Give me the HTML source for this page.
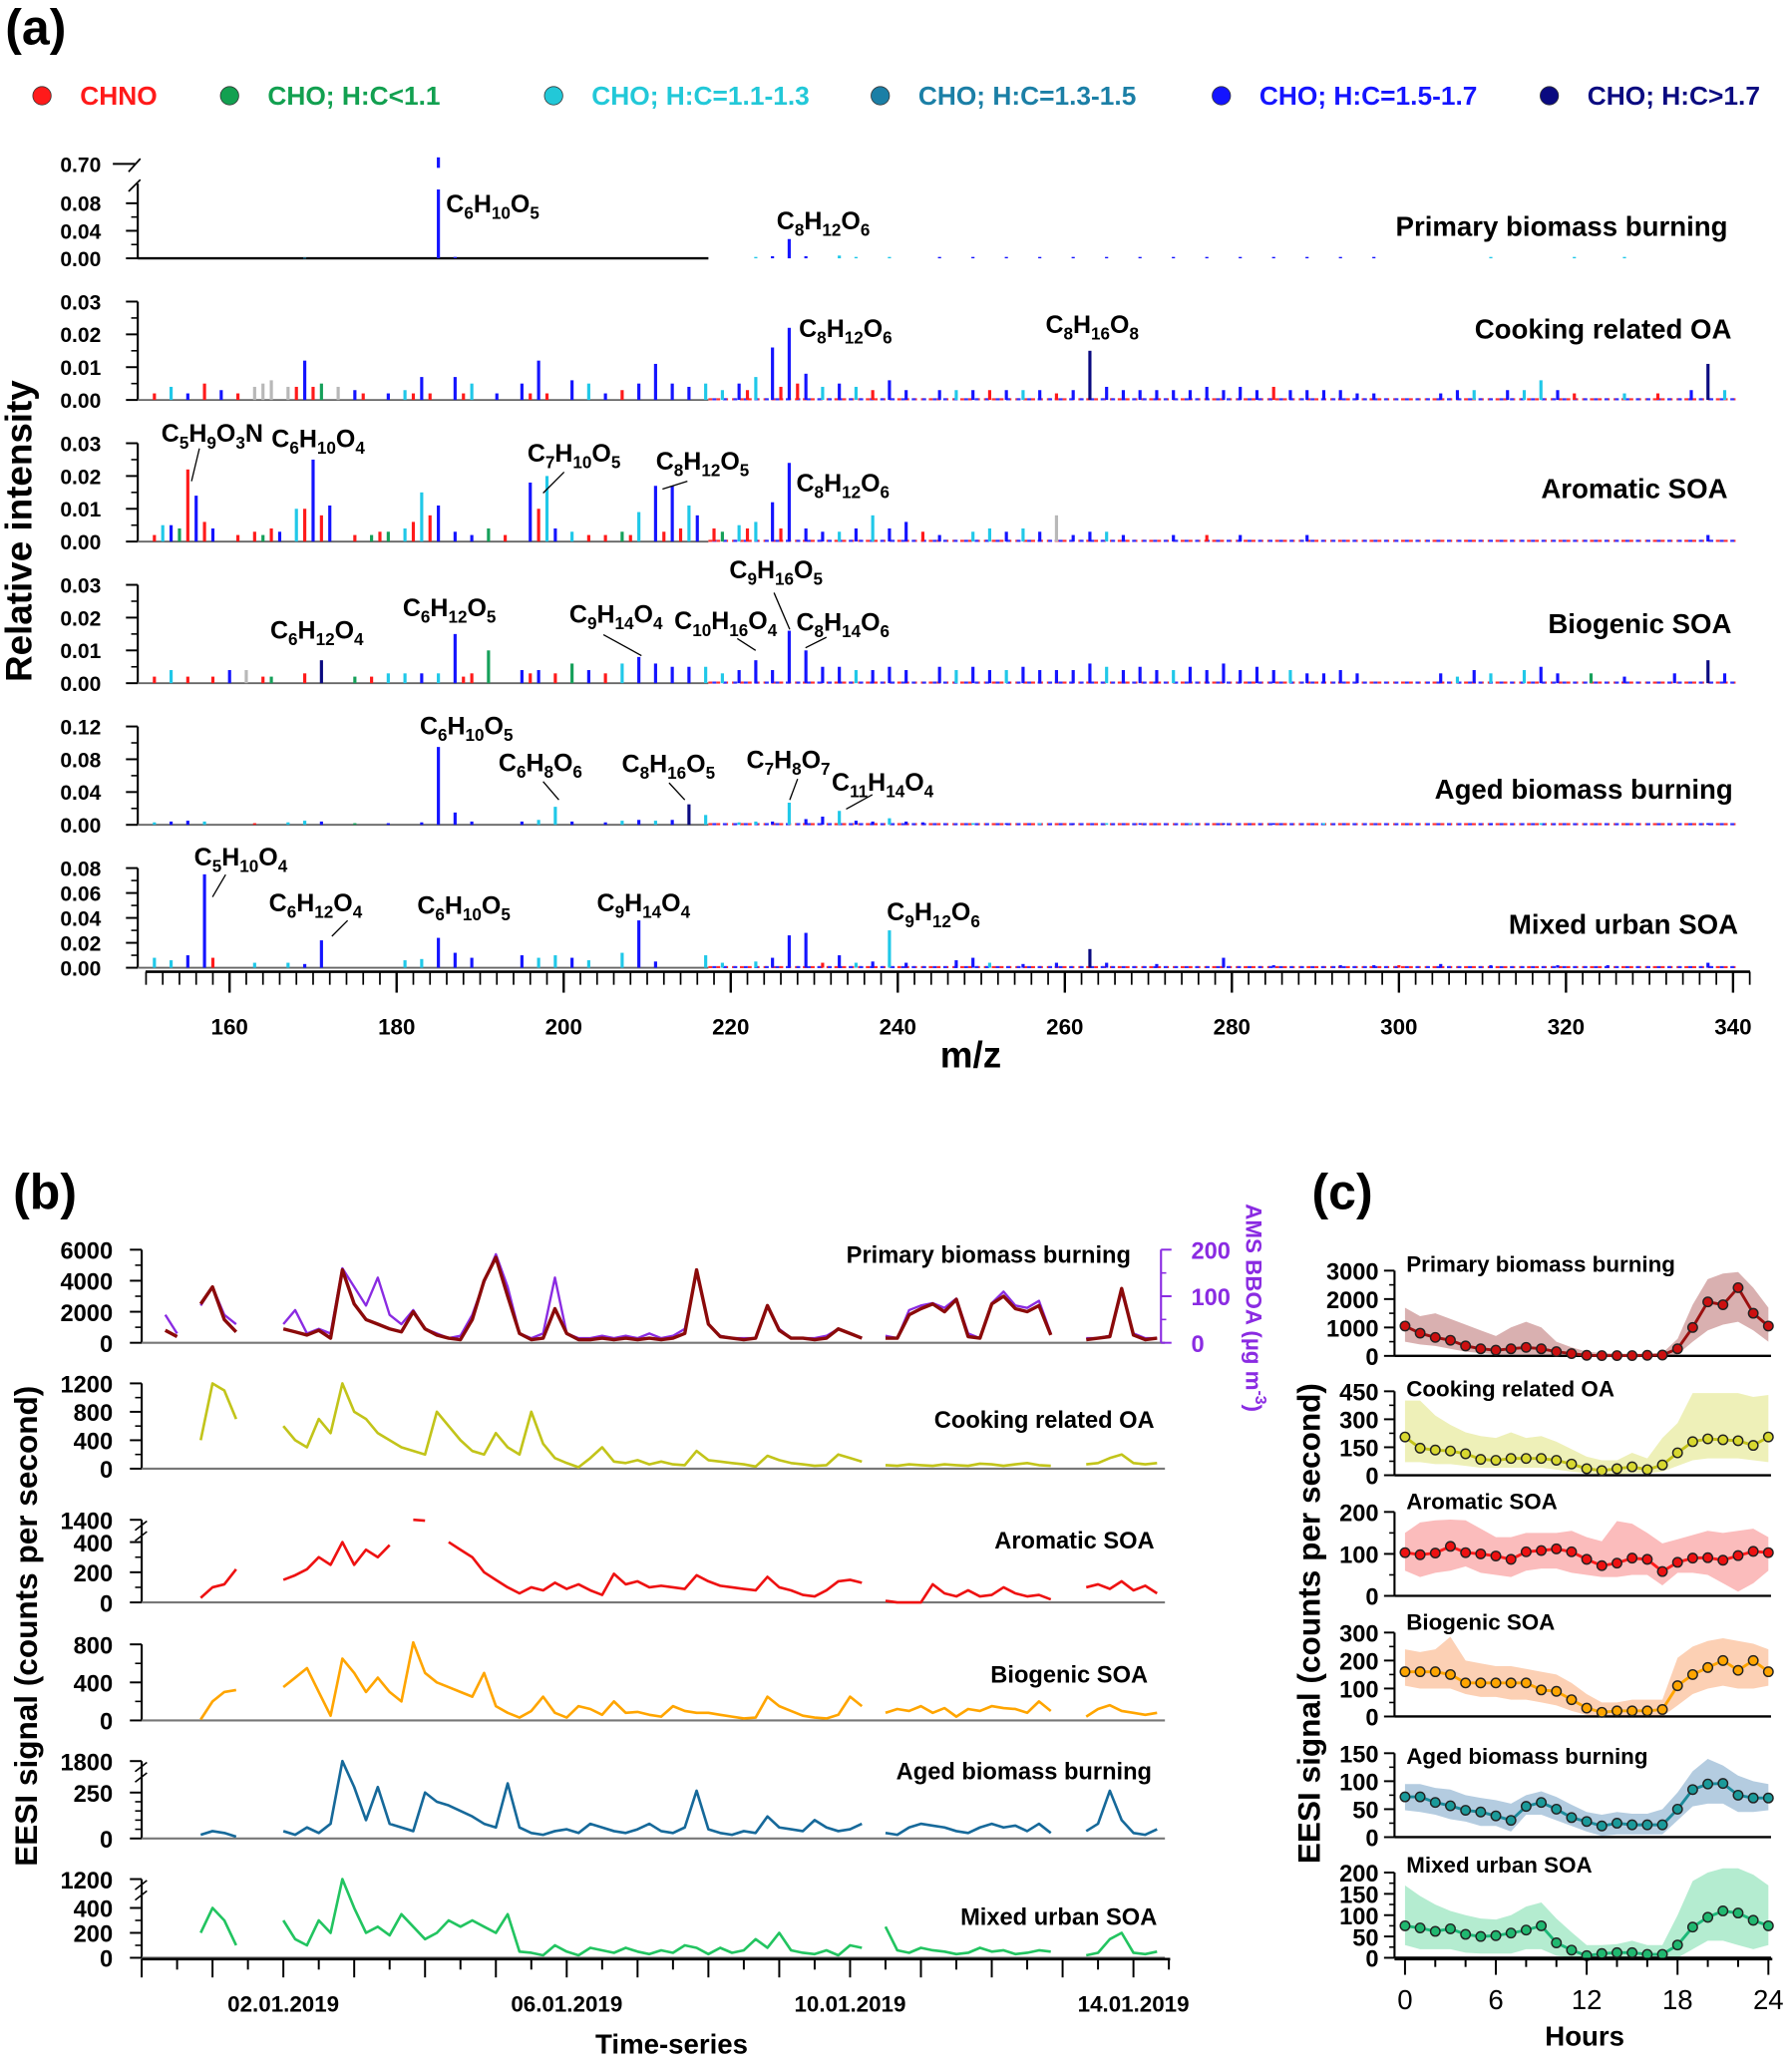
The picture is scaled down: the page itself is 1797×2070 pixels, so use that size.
<!DOCTYPE html>
<html><head><meta charset="utf-8"><style>
html,body{margin:0;padding:0;background:#fff;}
svg{display:block;font-family:"Liberation Sans",sans-serif;}
</style></head><body>
<svg id="fig" xmlns="http://www.w3.org/2000/svg" viewBox="0 0 1366 1574" width="1797" height="2070" preserveAspectRatio="none">
<rect x="0" y="0" width="1366" height="1574" fill="#fff"/>
<text x="4" y="34" font-size="38" font-weight="bold">(a)</text>
<text x="10" y="922" font-size="38" font-weight="bold">(b)</text>
<text x="1000" y="922" font-size="38" font-weight="bold">(c)</text>
<text transform="translate(24,405) rotate(-90)" text-anchor="middle" font-size="28" font-weight="bold">Relative intensity</text>
<text x="740" y="814" text-anchor="middle" font-size="28" font-weight="bold">m/z</text>
<text transform="translate(28,1240) rotate(-90)" text-anchor="middle" font-size="24" font-weight="bold">EESI signal (counts per second)</text>
<text transform="translate(1006,1238) rotate(-90)" text-anchor="middle" font-size="24" font-weight="bold">EESI signal (counts per second)</text>
<text x="512" y="1566" text-anchor="middle" font-size="21" font-weight="bold">Time-series</text>
<text x="1208" y="1560" text-anchor="middle" font-size="21" font-weight="bold">Hours</text>
<text transform="translate(950,918) rotate(90)" font-size="17" font-weight="bold" fill="#8a2be2">AMS BBOA (µg m<tspan dy="-7" font-size="12">-3</tspan><tspan dy="7">)</tspan></text>
<g id="legend"></g>
<g id="pa"></g>
<g id="pb"></g>
<g id="pc"></g>
</svg>
<script>
// ===== Panel (a) data =====
const legendLabels=["CHNO","CHO; H:C<1.1","CHO; H:C=1.1-1.3","CHO; H:C=1.3-1.5","CHO; H:C=1.5-1.7","CHO; H:C>1.7"];
const legendKeys=["r","g","c","t","b","n"];
const pbbBars=[[169,.001,'t'],[185,0.7,'b'],[187,.002,'b'],[223,.002,'c'],[225,.003,'b'],[227,.028,'b'],[229,.003,'b'],[233,.004,'c'],[235,.002,'c'],[239,.002,'c'],[245,.002,'b'],[249,.002,'b'],[253,.002,'b'],[257,.002,'b'],[261,.002,'b'],[265,.002,'b'],[269,.002,'b'],[273,.002,'b'],[277,.002,'b'],[281,.002,'b'],[285,.002,'b'],[289,.002,'b'],[293,.002,'b'],[297,.002,'b'],[311,.002,'c'],[321,.002,'c'],[327,.002,'c']];
const cookBars=[[151,.002,'r'],[153,.004,'c'],[155,.002,'b'],[157,.005,'r'],[159,.003,'b'],[161,.002,'r'],[163,.004,'k'],[164,.005,'k'],[165,.006,'k'],[167,.004,'k'],[168,.004,'r'],[169,.012,'b'],[170,.004,'r'],[171,.005,'g'],[173,.004,'k'],[175,.003,'b'],[176,.002,'r'],[179,.002,'b'],[181,.003,'c'],[182,.002,'r'],[183,.007,'b'],[184,.002,'r'],[187,.007,'b'],[188,.002,'r'],[189,.005,'c'],[192,.002,'b'],[195,.005,'b'],[196,.002,'r'],[197,.012,'b'],[198,.002,'r'],[201,.006,'b'],[203,.005,'c'],[205,.002,'b'],[207,.003,'r'],[209,.005,'b'],[211,.011,'b'],[213,.005,'b'],[215,.004,'b'],[217,.005,'c'],[219,.003,'c'],[221,.005,'b'],[222,.003,'r'],[223,.007,'c'],[225,.016,'b'],[226,.004,'r'],[227,.022,'b'],[228,.005,'r'],[229,.008,'b'],[231,.004,'c'],[233,.005,'b'],[235,.004,'c'],[237,.003,'r'],[239,.006,'b'],[241,.003,'b'],[245,.003,'b'],[247,.003,'c'],[249,.003,'b'],[251,.003,'r'],[253,.003,'b'],[255,.003,'c'],[257,.003,'b'],[259,.002,'r'],[261,.003,'b'],[263,.015,'n'],[265,.004,'b'],[267,.003,'b'],[269,.003,'b'],[271,.003,'b'],[273,.003,'b'],[275,.003,'b'],[277,.004,'b'],[279,.003,'b'],[281,.004,'b'],[283,.003,'b'],[285,.004,'r'],[287,.003,'b'],[289,.003,'b'],[291,.003,'b'],[293,.003,'b'],[295,.002,'b'],[297,.002,'b'],[305,.002,'b'],[307,.003,'b'],[309,.003,'c'],[313,.003,'b'],[315,.003,'c'],[317,.006,'c'],[319,.003,'b'],[321,.002,'r'],[327,.002,'c'],[331,.002,'r'],[335,.003,'b'],[337,.011,'n'],[339,.003,'c']];
const aroBars=[[151,.002,'r'],[152,.005,'c'],[153,.005,'b'],[154,.004,'g'],[155,.022,'r'],[156,.014,'b'],[157,.006,'r'],[158,.004,'b'],[161,.002,'r'],[163,.003,'r'],[164,.002,'g'],[165,.004,'r'],[166,.003,'b'],[168,.010,'c'],[169,.010,'r'],[170,.025,'b'],[171,.008,'r'],[172,.011,'b'],[175,.002,'r'],[177,.002,'g'],[178,.003,'r'],[179,.003,'g'],[181,.004,'c'],[182,.006,'r'],[183,.015,'c'],[184,.008,'r'],[185,.011,'b'],[187,.003,'b'],[189,.002,'b'],[191,.004,'g'],[193,.002,'r'],[196,.018,'b'],[197,.010,'r'],[198,.020,'c'],[199,.004,'b'],[201,.003,'c'],[203,.002,'r'],[205,.002,'r'],[207,.003,'g'],[208,.002,'r'],[209,.009,'c'],[211,.017,'b'],[212,.003,'r'],[213,.017,'b'],[214,.004,'r'],[215,.011,'c'],[216,.008,'b'],[218,.004,'r'],[219,.003,'g'],[221,.005,'c'],[222,.004,'r'],[223,.006,'c'],[225,.012,'b'],[226,.004,'r'],[227,.024,'b'],[229,.004,'b'],[231,.003,'b'],[233,.003,'c'],[235,.004,'b'],[237,.008,'c'],[239,.004,'b'],[241,.006,'b'],[243,.003,'r'],[245,.002,'b'],[249,.003,'c'],[251,.004,'c'],[253,.003,'b'],[255,.004,'c'],[257,.003,'b'],[259,.008,'k'],[261,.002,'b'],[263,.003,'b'],[265,.003,'c'],[267,.002,'b'],[273,.002,'b'],[277,.002,'r'],[281,.002,'b'],[289,.002,'b'],[337,.002,'b']];
const bioBars=[[151,.002,'r'],[153,.004,'c'],[155,.002,'r'],[158,.002,'r'],[160,.004,'b'],[162,.004,'k'],[164,.002,'r'],[165,.002,'g'],[169,.003,'r'],[171,.007,'n'],[175,.002,'g'],[177,.002,'r'],[179,.003,'c'],[181,.003,'c'],[183,.003,'b'],[185,.003,'c'],[187,.015,'b'],[188,.002,'r'],[189,.003,'r'],[191,.010,'g'],[195,.004,'b'],[196,.003,'r'],[197,.004,'b'],[199,.003,'r'],[201,.006,'g'],[203,.004,'b'],[205,.003,'r'],[207,.006,'c'],[209,.008,'b'],[211,.006,'b'],[213,.005,'b'],[215,.005,'b'],[217,.005,'c'],[219,.003,'c'],[221,.004,'b'],[223,.007,'b'],[225,.004,'b'],[227,.016,'b'],[229,.010,'b'],[231,.005,'b'],[233,.005,'b'],[235,.004,'c'],[237,.004,'b'],[239,.005,'b'],[241,.004,'b'],[245,.005,'b'],[247,.004,'c'],[249,.005,'b'],[251,.004,'b'],[253,.004,'c'],[255,.005,'b'],[257,.004,'b'],[259,.004,'b'],[261,.004,'b'],[263,.006,'b'],[265,.005,'c'],[267,.004,'b'],[269,.005,'b'],[271,.004,'b'],[273,.004,'c'],[275,.005,'b'],[277,.004,'b'],[279,.006,'b'],[281,.004,'b'],[283,.005,'b'],[285,.004,'b'],[287,.004,'c'],[289,.003,'b'],[291,.003,'b'],[293,.004,'b'],[295,.003,'b'],[305,.003,'b'],[307,.002,'c'],[309,.004,'b'],[311,.003,'c'],[315,.004,'c'],[317,.005,'b'],[319,.003,'b'],[323,.003,'g'],[327,.002,'b'],[333,.003,'b'],[337,.007,'n'],[339,.003,'b']];
const agedBars=[[151,.003,'c'],[153,.004,'b'],[155,.005,'b'],[157,.004,'c'],[163,.002,'r'],[167,.003,'c'],[169,.005,'c'],[171,.004,'b'],[175,.002,'g'],[179,.002,'b'],[183,.003,'b'],[185,.095,'b'],[187,.015,'b'],[189,.004,'b'],[195,.004,'b'],[197,.006,'c'],[199,.022,'c'],[201,.004,'b'],[205,.003,'b'],[207,.005,'c'],[209,.006,'b'],[211,.005,'c'],[213,.006,'b'],[215,.025,'n'],[217,.012,'c'],[221,.003,'c'],[223,.004,'c'],[225,.004,'b'],[227,.027,'c'],[229,.007,'b'],[231,.010,'b'],[233,.017,'c'],[235,.005,'b'],[237,.004,'b'],[239,.008,'c'],[241,.004,'b'],[243,.003,'b'],[249,.002,'c'],[253,.002,'b'],[257,.002,'c'],[261,.002,'b'],[265,.002,'c'],[269,.002,'b'],[275,.002,'c'],[279,.002,'b'],[285,.002,'b'],[291,.002,'c'],[311,.002,'b'],[317,.002,'c'],[337,.002,'b']];
const mixBars=[[151,.008,'c'],[153,.006,'c'],[155,.010,'b'],[157,.075,'b'],[158,.008,'r'],[163,.004,'c'],[167,.004,'c'],[169,.003,'b'],[171,.022,'b'],[181,.006,'c'],[183,.007,'c'],[185,.024,'b'],[187,.012,'b'],[189,.008,'b'],[195,.010,'b'],[197,.008,'c'],[199,.010,'c'],[201,.008,'b'],[203,.006,'c'],[207,.012,'c'],[209,.038,'b'],[211,.005,'b'],[217,.010,'c'],[219,.004,'c'],[223,.005,'c'],[225,.008,'b'],[227,.026,'b'],[229,.028,'b'],[231,.004,'r'],[233,.010,'b'],[235,.004,'c'],[237,.005,'b'],[239,.030,'c'],[241,.004,'b'],[247,.006,'b'],[249,.008,'b'],[251,.004,'c'],[255,.003,'b'],[259,.004,'b'],[263,.015,'n'],[265,.004,'b'],[271,.003,'b'],[279,.008,'b'],[285,.002,'b'],[293,.002,'b'],[297,.002,'b'],[300,.002,'r'],[305,.003,'b'],[311,.002,'b'],[319,.002,'b'],[325,.002,'b'],[337,.004,'b']];
const mzTickLabels=[160,180,200,220,240,260,280,300,320,340];

// ===== Panel (b) data (4-hourly, k=0..87, t = k/6 days from 31.12.2018) =====
const tsDayLabels=["02.01.2019","06.01.2019","10.01.2019","14.01.2019"];
const tsDayPos=[2,6,10,14];
const sPBB=[null,null,800,400,null,2500,3600,1500, 700,null,null,null,900,700,500,800, 300,4700,2500,1500,1200,900,700,2000, 900,500,300,200,1500,4000,5500,3000, 600,200,300,2200,600,200,200,300, 200,300,200,300,200,300,600,4700, 1200,400,300,200,300,2400,800,300, 300,200,300,900,600,300,null,300, 300,1800,2200,2500,2000,2800,400,300, 2500,3000,2200,2000,2400,500,null,null, 200,300,400,3500,500,200,300,null];
const sBBOA=[null,null,60,20,null,80,120,60, 40,null,null,null,40,70,20,30, 20,160,120,80,140,60,40,70, 30,20,10,15,60,130,190,120, 20,10,20,140,20,10,10,15, 10,15,10,20,10,15,30,150, 40,15,10,10,10,80,30,10, 10,10,15,30,20,10,null,15, 10,70,80,85,75,95,20,10, 85,110,80,75,90,20,null,null, 10,10,15,110,20,10,10,null];
const sCOOK=[null,null,600,null,null,400,1200,1100, 700,null,null,null,600,400,300,700, 500,1200,800,700,500,400,300,250, 200,800,600,400,250,200,500,300, 200,800,350,150,80,20,150,300, 100,80,120,60,100,60,50,250, 120,100,80,60,30,180,120,80, 60,40,50,200,150,100,null,50, 40,60,50,40,60,50,40,70, 60,40,60,80,50,40,null,null, 60,80,150,200,80,60,80,null];
const sARO=[null,null,120,null,null,30,100,120, 220,null,null,null,150,180,220,300, 250,400,250,350,300,380,null,1400, 1380,null,400,350,300,200,150,100, 60,100,80,130,90,120,80,50, 190,120,140,100,110,100,90,180, 140,110,100,90,80,170,100,80, 50,40,80,140,150,130,null,10, 0,0,0,120,60,40,80,40, 50,100,60,40,50,20,null,null, 100,120,90,140,80,110,60,null];
const sBIO=[null,null,80,null,null,10,200,300, 320,null,null,null,350,450,550,300, 50,650,500,300,450,300,200,820, 500,400,350,300,250,500,150,80, 30,100,250,80,30,150,120,60, 200,80,90,60,40,150,100,80, 80,60,40,20,30,250,150,100, 50,30,20,60,250,150,null,80, 120,100,150,80,130,40,120,100, 150,130,120,80,200,100,null,null, 40,120,160,100,80,60,80,null];
const sAGED=[null,null,80,null,null,20,40,30, 10,null,null,null,40,20,60,30, 80,1800,280,100,280,80,60,40, 250,200,180,150,120,80,60,300, 60,30,20,40,50,30,80,60, 40,30,50,80,40,30,60,260, 50,30,20,40,30,120,60,50, 40,100,60,40,50,80,null,30, 20,60,80,70,60,40,30,60, 80,60,70,40,80,30,null,null, 40,80,260,100,30,20,50,null];
const sMIX=[null,null,20,null,null,200,400,300, 100,null,null,null,300,150,100,300, 200,1200,400,200,250,180,350,250, 150,200,300,250,300,250,200,350, 50,40,20,100,50,20,80,60, 40,80,50,30,60,40,100,80, 30,80,40,60,150,80,200,60, 40,30,60,20,100,80,null,250, 60,40,80,60,50,30,40,80, 50,60,30,40,60,50,null,null, 20,40,150,200,40,30,50,null];

// ===== Panel (c) data (hour 0..24) =====
const hourLabels=[0,6,12,18,24];
const dPBB=[1050,800,650,550,350,250,200,250,300,250,150,80,20,10,10,10,20,30,250,1000,1900,1800,2400,1500,1050];
const dPBBhi=[1700,1400,1500,1300,1100,900,700,1000,1200,1000,500,300,150,100,80,80,80,100,600,1800,2700,2900,2950,2400,1700];
const dPBBlo=[500,400,350,250,150,100,50,50,50,30,0,0,0,0,0,0,0,0,50,500,900,1100,1200,900,500];
const dCOOK=[205,145,135,130,115,85,80,90,90,90,80,60,35,25,35,45,30,55,120,180,195,190,185,160,205];
const dCOOKhi=[400,400,320,270,230,210,200,230,200,210,180,140,100,80,80,120,90,200,280,440,440,440,440,420,430];
const dCOOKlo=[70,70,60,60,50,40,40,40,40,40,30,20,10,5,5,10,10,20,50,80,90,90,90,80,70];
const dARO=[103,98,102,118,103,100,95,87,105,108,112,105,87,72,78,90,87,58,80,90,91,85,96,106,103];
const dAROhi=[150,175,180,182,180,160,140,140,150,150,150,155,140,130,178,172,150,125,135,145,155,150,155,160,140];
const dAROlo=[60,45,55,60,70,55,50,45,60,65,65,55,50,45,45,50,50,25,55,55,50,30,10,30,60];
const dBIO=[160,160,160,150,120,120,120,120,120,95,90,60,30,15,20,20,20,25,110,150,175,200,165,200,160];
const dBIOhi=[240,230,240,285,200,190,180,180,170,160,150,120,80,50,50,60,60,60,210,250,270,280,270,260,240];
const dBIOlo=[110,100,100,100,80,70,70,60,60,50,40,20,5,0,0,0,0,0,40,80,100,110,100,100,110];
const dAGED=[72,72,62,56,48,45,38,30,55,62,50,35,28,20,25,22,22,22,50,85,95,96,75,70,70];
const dAGEDhi=[95,95,88,85,75,70,66,60,75,82,72,58,45,40,45,42,42,50,80,118,140,128,110,100,95];
const dAGEDlo=[48,45,40,32,28,20,20,10,40,40,30,20,10,2,5,5,5,5,30,55,60,60,45,45,48];
const dMIX=[75,70,62,68,55,50,52,58,65,75,35,18,5,10,12,12,8,8,30,72,95,110,105,88,75];
const dMIXhi=[170,145,125,110,100,92,90,100,120,130,92,60,30,30,32,40,30,30,100,180,200,210,210,195,170];
const dMIXlo=[30,20,20,20,12,10,10,10,20,20,5,0,0,0,0,0,0,0,0,20,40,40,30,20,30];

// ===== helpers =====
const NS="http://www.w3.org/2000/svg";
const COL={r:"#ff1a1a",g:"#16a05a",c:"#20c8e8",t:"#1b7fa6",b:"#1414ff",n:"#0a0a80",k:"#b8b8b8"};
const LEGCOL={r:"#ff1a1a",g:"#12a050",c:"#22c8d8",t:"#1b7fa6",b:"#1414ff",n:"#0a0a80"};
function mk(tag,attrs,parent){const e=document.createElementNS(NS,tag);for(const k in attrs)e.setAttribute(k,attrs[k]);parent.appendChild(e);return e;}
function txt(parent,x,y,s,size,anchor,weight,fill){const t=mk('text',{x:x,y:y,'font-size':size,'text-anchor':anchor||'start','font-weight':weight||'bold',fill:fill||'#000'},parent);t.textContent=s;return t;}
function formula(parent,s,x,y){
  const t=mk('text',{x:x,y:y,'font-size':19,'font-weight':'bold'},parent);
  const re=/([A-Z][a-z]?)(\d*)/g;let m;
  while((m=re.exec(s))!==null){
    const a=mk('tspan',{},t);a.textContent=m[1];
    if(m[2]){const b=mk('tspan',{dy:5,'font-size':13},t);b.textContent=m[2];const c=mk('tspan',{dy:-5,'font-size':1},t);c.textContent='\u200b';}
  }
  return t;
}
const pa=document.getElementById('pa'),pb=document.getElementById('pb'),pc=document.getElementById('pc'),lg=document.getElementById('legend');

// ===== legend =====
const legX=[32,175,422,671,931,1181];
legendLabels.forEach((s,i)=>{
  const g=mk('g',{},lg);
  
  
  mk('circle',{cx:legX[i],cy:73,r:7,fill:LEGCOL[legendKeys[i]],stroke:'#333','stroke-width':0.6},g);
  txt(g,legX[i]+29,80,s,20,'start','bold',LEGCOL[legendKeys[i]]);
});

// ===== panel (a) =====
function xm(m){return 175+(m-160)*6.367;}
const aPanels=[
 {name:'primary-biomass-burning',title:'Primary biomass burning',tx:1317,ty:180,base:197,ppu:525,ticks:[0,0.04,0.08],tl:['0.00','0.04','0.08'],bars:pbbBars,top:140,brk:true},
 {name:'cooking-related-oa',title:'Cooking related OA',tx:1320,ty:258,base:305,ppu:2500,ticks:[0,0.01,0.02,0.03],tl:['0.00','0.01','0.02','0.03'],bars:cookBars},
 {name:'aromatic-soa',title:'Aromatic SOA',tx:1317,ty:380,base:413,ppu:2500,ticks:[0,0.01,0.02,0.03],tl:['0.00','0.01','0.02','0.03'],bars:aroBars},
 {name:'biogenic-soa',title:'Biogenic SOA',tx:1320,ty:483,base:521,ppu:2500,ticks:[0,0.01,0.02,0.03],tl:['0.00','0.01','0.02','0.03'],bars:bioBars},
 {name:'aged-biomass-burning',title:'Aged biomass burning',tx:1321,ty:609,base:629,ppu:625,ticks:[0,0.04,0.08,0.12],tl:['0.00','0.04','0.08','0.12'],bars:agedBars},
 {name:'mixed-urban-soa',title:'Mixed urban SOA',tx:1325,ty:712,base:738,ppu:950,ticks:[0,0.02,0.04,0.06,0.08],tl:['0.00','0.02','0.04','0.06','0.08'],bars:mixBars}
];
aPanels.forEach((p,pi)=>{
  const g=mk('g',{},pa);
  
  
  const yv=v=>p.base-v*p.ppu;
  const topY=p.brk?p.top:yv(p.ticks[p.ticks.length-1]);
  mk('line',{x1:105,y1:p.base,x2:105,y2:topY,stroke:'#000','stroke-width':1.6},g);
  p.ticks.forEach((v,i)=>{
    mk('line',{x1:96,y1:yv(v),x2:105,y2:yv(v),stroke:'#000','stroke-width':1.5},g);
    txt(g,77,yv(v)+6,p.tl[i],16,'end','bold');
    if(i<p.ticks.length-1){const mv=(v+p.ticks[i+1])/2;mk('line',{x1:100,y1:yv(mv),x2:105,y2:yv(mv),stroke:'#000','stroke-width':1.2},g);}
  });
  if(p.brk){
    mk('line',{x1:86,y1:125,x2:103,y2:125,stroke:'#000','stroke-width':1.5},g);
    mk('path',{d:'M98,131 L107,121 M98,146 L107,137',stroke:'#000','stroke-width':1.3,fill:'none'},g);
    txt(g,77,131,'0.70',16,'end','bold');
  }
  // baseline left part
  mk('line',{x1:105,y1:p.base,x2:540,y2:p.base,stroke:pi==0?'#000':'#666','stroke-width':pi==0?1.8:1.4},g);
  if(pi>0){
    mk('line',{x1:540,y1:p.base-0.5,x2:1325,y2:p.base-0.5,stroke:'#ff3030','stroke-width':1.6,'stroke-dasharray':'3 3'},g);
    mk('line',{x1:543,y1:p.base-0.5,x2:1325,y2:p.base-0.5,stroke:'#3030ff','stroke-width':1.6,'stroke-dasharray':'3 5'},g);
  }
  p.bars.forEach(b=>{
    let v=b[1],y=yv(v);
    if(p.brk && v>0.1){
      y=yv(0.1);
      const s=mk('line',{x1:xm(b[0]),y1:128,x2:xm(b[0]),y2:120,stroke:COL[b[2]],'stroke-width':2.4},g);
      
      
    }
    const r=mk('rect',{x:xm(b[0])-1.2,y:y,width:2.4,height:Math.max(p.base-y,0.8),fill:COL[b[2]]},g);
    
    
  });
  const tt=txt(g,p.tx,p.ty,p.title,21,'end','bold');
  
  
});
// m/z axis
(function(){
  const g=mk('g',{},pa);
  
  
  mk('line',{x1:111,y1:741,x2:1334,y2:741,stroke:'#000','stroke-width':2},g);
  for(let m=150;m<=342;m+=2){const maj=(m%20===0);mk('line',{x1:xm(m),y1:741,x2:xm(m),y2:maj?757:751,stroke:'#000','stroke-width':maj?1.8:1.3},g);}
  mzTickLabels.forEach(m=>{const t=txt(g,xm(m),789,String(m),17,'middle','bold');});
})();
// formula labels
const formulaLabels=[
 ['C6H10O5',340,162,null],['C8H12O6',592,175,null],
 ['C8H12O6',609,257,null],['C8H16O8',797,254,null],
 ['C5H9O3N',123,337,[152,342,146,367]],['C6H10O4',207,341,null],['C7H10O5',402,352,[430,360,414,376]],['C8H12O5',500,358,[524,367,505,373]],['C8H12O6',607,375,null],
 ['C6H12O4',206,487,null],['C6H12O5',307,470,null],['C9H14O4',434,475,[460,484,489,500]],['C10H16O4',514,480,[562,487,576,496]],['C9H16O5',556,441,[590,452,602,480]],['C8H14O6',607,481,[630,486,614,494]],
 ['C6H10O5',320,560,null],['C6H8O6',380,588,[414,596,426,610]],['C8H16O5',474,589,[510,597,522,610]],['C7H8O7',569,586,[608,594,602,610]],['C11H14O4',634,603,[665,606,645,617]],
 ['C5H10O4',148,660,[172,667,162,684]],['C6H12O4',205,695,[265,702,253,714]],['C6H10O5',318,697,null],['C9H14O4',455,695,null],['C9H12O6',676,702,null]
];
formulaLabels.forEach(f=>{
  const t=formula(pa,f[0],f[1],f[2]);
  
  
  if(f[3]){mk('line',{x1:f[3][0],y1:f[3][1],x2:f[3][2],y2:f[3][3],stroke:'#000','stroke-width':1},pa);}
});

// ===== panel (b) =====
function xt(k){return 108+9*k;}
function xd(d){return 108+54*d;}
const bPanels=[
 {name:'primary-biomass-burning',title:'Primary biomass burning',tx:862,ty:963,base:1024,data:sPBB,col:'#8b0a0a',y:v=>1024-v*0.01183,ticks:[0,2000,4000,6000],minor:[1000,3000,5000],sw:2.6},
 {name:'cooking-related-oa',title:'Cooking related OA',tx:880,ty:1089,base:1120,data:sCOOK,col:'#c2c41a',y:v=>1120-v*0.0542,ticks:[0,400,800,1200],minor:[200,600,1000]},
 {name:'aromatic-soa',title:'Aromatic SOA',tx:880,ty:1181,base:1222,data:sARO,col:'#ee1111',y:v=>v<=450?1222-v*0.115:1159-(v-1400)*0.03,ticks:[0,200,400],minor:[100,300],brk:[1400,1159]},
 {name:'biogenic-soa',title:'Biogenic SOA',tx:875,ty:1283,base:1312,data:sBIO,col:'#ffa500',y:v=>1312-v*0.0725,ticks:[0,400,800],minor:[200,600]},
 {name:'aged-biomass-burning',title:'Aged biomass burning',tx:878,ty:1357,base:1402,data:sAGED,col:'#16699a',y:v=>v<=300?1402-v*0.14:1343-(v-1800)*0.02,ticks:[0,250],minor:[50,100,150,200],brk:[1800,1343]},
 {name:'mixed-urban-soa',title:'Mixed urban SOA',tx:882,ty:1468,base:1493,data:sMIX,col:'#22c460',y:v=>v<=450?1493-v*0.095:1433-(v-1200)*0.02,ticks:[0,200,400],minor:[100,300],brk:[1200,1433]}
];
function drawSeries(g,arr,yf,col,sw,name){
  let seg=[];
  const flush=()=>{if(seg.length>1){const pl=mk('polyline',{points:seg.join(' '),fill:'none',stroke:col,'stroke-width':sw,'stroke-linejoin':'round'},g);}seg=[];};
  arr.forEach((v,k)=>{if(v===null){flush();}else{seg.push(xt(k).toFixed(1)+','+yf(v).toFixed(1));}});
  flush();
}
bPanels.forEach((p,pi)=>{
  const g=mk('g',{},pb);
  
  
  const top=p.brk?p.brk[1]:p.y(p.ticks[p.ticks.length-1]);
  mk('line',{x1:108,y1:p.base,x2:108,y2:top,stroke:'#000','stroke-width':1.6},g);
  mk('line',{x1:108,y1:p.base,x2:888,y2:p.base,stroke:'#777','stroke-width':1.6},g);
  p.ticks.forEach(v=>{mk('line',{x1:99,y1:p.y(v),x2:108,y2:p.y(v),stroke:'#000','stroke-width':1.5},g);txt(g,86,p.y(v)+7,String(v),18,'end','bold');});
  p.minor.forEach(v=>{mk('line',{x1:103,y1:p.y(v),x2:108,y2:p.y(v),stroke:'#000','stroke-width':1.2},g);});
  if(p.brk){
    mk('line',{x1:99,y1:p.brk[1],x2:108,y2:p.brk[1],stroke:'#000','stroke-width':1.5},g);
    txt(g,86,p.brk[1]+7,String(p.brk[0]),18,'end','bold');
    mk('path',{d:`M103,${p.brk[1]+8} L112,${p.brk[1]+1} M103,${p.brk[1]+16} L112,${p.brk[1]+9}`,stroke:'#000','stroke-width':1.2,fill:'none'},g);
  }
  if(pi===0){
    const by=v=>1024-v*0.355;
    drawSeries(g,sBBOA,by,'#8a2be2',1.8,'bboa-line');
    mk('line',{x1:885,y1:1024,x2:885,y2:953,stroke:'#8a2be2','stroke-width':1.6},g);
    [0,100,200].forEach(v=>{mk('line',{x1:885,y1:by(v),x2:893,y2:by(v),stroke:'#8a2be2','stroke-width':1.5},g);txt(g,908,by(v)+7,String(v),18,'start','bold','#8a2be2');});
    [50,150].forEach(v=>{mk('line',{x1:885,y1:by(v),x2:889,y2:by(v),stroke:'#8a2be2','stroke-width':1.2},g);});
  }
  drawSeries(g,p.data,p.y,p.col,p.sw||2,'series-line');
  const tt=txt(g,p.tx,p.ty,p.title,18,'end','bold');
  
  
});
(function(){
  const g=mk('g',{},pb);
  
  
  mk('line',{x1:108,y1:1494,x2:892,y2:1494,stroke:'#000','stroke-width':2},g);
  for(let d=0;d<=14.5;d+=0.5){const maj=Number.isInteger(d);mk('line',{x1:xd(d),y1:1494,x2:xd(d),y2:maj?1508:1502,stroke:'#000','stroke-width':1.5},g);}
  tsDayLabels.forEach((s,i)=>{const t=txt(g,xd(tsDayPos[i]),1534,s,17,'middle','bold');});
})();

// ===== panel (c) =====
function xh(h){return 1071+h*(277/24);}
const cPanels=[
 {name:'primary-biomass-burning',title:'Primary biomass burning',ty:970,base:1034,top:969,max:3000,ticks:[0,1000,2000,3000],m:dPBB,hi:dPBBhi,lo:dPBBlo,col:'#9b1010',band:'#d9b0b0',fill:'#cc1010'},
 {name:'cooking-related-oa',title:'Cooking related OA',ty:1065,base:1125,top:1061,max:450,ticks:[0,150,300,450],m:dCOOK,hi:dCOOKhi,lo:dCOOKlo,col:'#c4c41a',band:'#eef0b8',fill:'#d8d830'},
 {name:'aromatic-soa',title:'Aromatic SOA',ty:1151,base:1217,top:1153,max:200,ticks:[0,100,200],m:dARO,hi:dAROhi,lo:dAROlo,col:'#ff1a1a',band:'#fbbcbc',fill:'#ee1111'},
 {name:'biogenic-soa',title:'Biogenic SOA',ty:1243,base:1309,top:1245,max:300,ticks:[0,100,200,300],m:dBIO,hi:dBIOhi,lo:dBIOlo,col:'#ffa500',band:'#fcd0b4',fill:'#ffa500'},
 {name:'aged-biomass-burning',title:'Aged biomass burning',ty:1345,base:1401,top:1337,max:150,ticks:[0,50,100,150],m:dAGED,hi:dAGEDhi,lo:dAGEDlo,col:'#1b8a9a',band:'#b4cce0',fill:'#1b9a9a'},
 {name:'mixed-urban-soa',title:'Mixed urban SOA',ty:1428,base:1493,top:1428,max:200,ticks:[0,50,100,150,200],m:dMIX,hi:dMIXhi,lo:dMIXlo,col:'#1cb878',band:'#b4ecd0',fill:'#20b870'}
];
cPanels.forEach(p=>{
  const g=mk('g',{},pc);
  
  
  const y=v=>p.base-v*(p.base-p.top)/p.max;
  let d='M'+p.hi.map((v,h)=>xh(h).toFixed(1)+','+y(v).toFixed(1)).join(' L');
  for(let h=24;h>=0;h--)d+=' L'+xh(h).toFixed(1)+','+y(p.lo[h]).toFixed(1);
  const band=mk('path',{d:d+' Z',fill:p.band,stroke:'none'},g);
  
  
  mk('line',{x1:1063,y1:p.base,x2:1063,y2:p.top,stroke:'#000','stroke-width':1.6},g);
  mk('line',{x1:1063,y1:p.base,x2:1350,y2:p.base,stroke:'#000','stroke-width':1.8},g);
  p.ticks.forEach((v,i)=>{
    mk('line',{x1:1055,y1:y(v),x2:1063,y2:y(v),stroke:'#000','stroke-width':1.5},g);
    txt(g,1051,y(v)+7,String(v),18,'end','bold');
    if(i<p.ticks.length-1){const mv=(v+p.ticks[i+1])/2;mk('line',{x1:1059,y1:y(mv),x2:1063,y2:y(mv),stroke:'#000','stroke-width':1.2},g);}
  });
  const line=mk('polyline',{points:p.m.map((v,h)=>xh(h).toFixed(1)+','+y(v).toFixed(1)).join(' '),fill:'none',stroke:p.col,'stroke-width':2.2},g);
  
  
  p.m.forEach((v,h)=>{
    const c=mk('circle',{cx:xh(h),cy:y(v),r:3.6,fill:p.fill,stroke:'#222','stroke-width':1.1},g);
    
    
  });
  const tt=txt(g,1072,p.ty,p.title,17,'start','bold');
  
  
});
(function(){
  const g=mk('g',{},pc);
  
  
  mk('line',{x1:1063,y1:1494,x2:1351,y2:1494,stroke:'#000','stroke-width':2},g);
  for(let h=0;h<=24;h+=2){const maj=h%6===0;mk('line',{x1:xh(h),y1:1494,x2:xh(h),y2:maj?1506:1500,stroke:'#000','stroke-width':1.5},g);}
  hourLabels.forEach(h=>{const t=txt(g,xh(h),1532,String(h),21,'middle','normal');});
})();
</script>
</body></html>
